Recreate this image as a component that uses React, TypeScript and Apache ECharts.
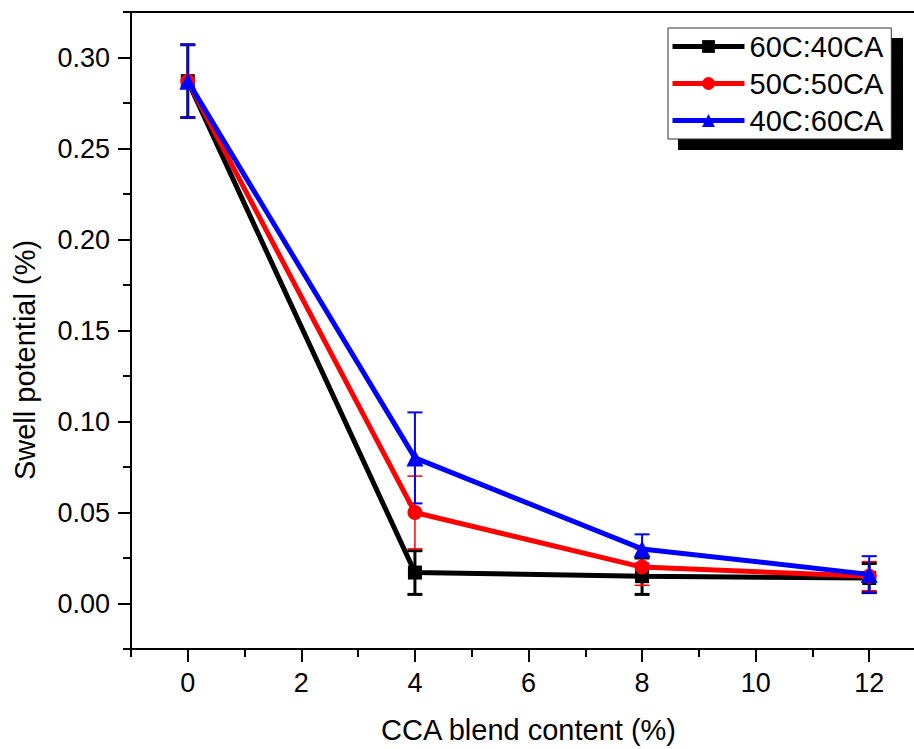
import React, { useEffect, useRef } from "react";
import * as echarts from "echarts";

const xValues = [0, 4, 8, 12];
const seriesNames = ["60C:40CA", "50C:50CA", "40C:60CA"];
const values60C40CA = [0.287, 0.017, 0.015, 0.014];
const values50C50CA = [0.287, 0.05, 0.02, 0.015];
const values40C60CA = [0.287, 0.08, 0.03, 0.016];
const err60C40CA = [0.02, 0.012, 0.01, 0.008];
const err50C50CA = [0.02, 0.02, 0.01, 0.008];
const err40C60CA = [0.02, 0.025, 0.008, 0.01];
const xMajorTicks = [0, 2, 4, 6, 8, 10, 12];
const xMinorTicks = [-1, 1, 3, 5, 7, 9, 11, 13];
const yMajorTicks = [0, 0.05, 0.1, 0.15, 0.2, 0.25, 0.3];
const yMinorTicks = [-0.025, 0.025, 0.075, 0.125, 0.175, 0.225, 0.275, 0.325];
const xTitle = "CCA blend content (%)";
const yTitle = "Swell potential (%)";

const FONT = "'Liberation Sans', Arial, sans-serif";

export default function App() {
  const ref = useRef<HTMLDivElement>(null);
  useEffect(() => {
    if (!ref.current) return;
    const chart = echarts.init(ref.current, undefined, { renderer: "svg" });
    const styles = [
      { color: "#000000", symbol: "rect", size: 14, errWidth: 3 },
      { color: "#ff0000", symbol: "circle", size: 15, errWidth: 1.5 },
      { color: "#0000ff", symbol: "triangle", size: 17, errWidth: 2 },
    ];
    const allValues = [values60C40CA, values50C50CA, values40C60CA];
    const allErrs = [err60C40CA, err50C50CA, err40C60CA];

    const errSeries = allValues.map((vals, i) => ({
      type: "custom",
      name: seriesNames[i] + " error",
      z: 1,
      silent: true,
      data: xValues.map((x, j) => [x, vals[j] - allErrs[i][j], vals[j] + allErrs[i][j]]),
      encode: { x: 0, y: [1, 2] },
      renderItem: (params: any, api: any) => {
        const x = api.value(0);
        const lo = api.value(1);
        const hi = api.value(2);
        const pt = api.coord([x, hi]);
        const pb = api.coord([x, lo]);
        const hw = 7.5;
        const st = { stroke: styles[i].color, lineWidth: styles[i].errWidth };
        return {
          type: "group",
          children: [
            { type: "line", shape: { x1: pt[0], y1: pt[1], x2: pb[0], y2: pb[1] }, style: st },
            { type: "line", shape: { x1: pt[0] - hw, y1: pt[1], x2: pt[0] + hw, y2: pt[1] }, style: st },
            { type: "line", shape: { x1: pb[0] - hw, y1: pb[1], x2: pb[0] + hw, y2: pb[1] }, style: st },
          ],
        };
      },
    }));

    const lineSeries = allValues.map((vals, i) => ({
      type: "line",
      name: seriesNames[i],
      z: 2 + i,
      data: xValues.map((x, j) => [x, vals[j]]),
      symbol: styles[i].symbol,
      symbolSize: styles[i].size,
      showSymbol: true,
      lineStyle: { color: styles[i].color, width: 5 },
      itemStyle: { color: styles[i].color },
      emphasis: { disabled: true },
    }));

    const axisLabelStyle = { color: "#000", fontFamily: FONT, fontSize: 27 };

    chart.setOption({
      animation: false,
      backgroundColor: "#fff",
      grid: {
        left: 131,
        right: 14,
        top: 12,
        bottom: 99,
        show: true,
        borderColor: "#000",
        borderWidth: 2,
        backgroundColor: "transparent",
      },
      legend: {
        data: seriesNames,
        left: 668,
        top: 28,
        orient: "vertical",
        selectedMode: false,
        backgroundColor: "#fff",
        borderColor: "#333",
        borderWidth: 1,
        padding: [1, 8, 1, 2],
        itemGap: 2,
        itemWidth: 72,
        itemHeight: 16,
        z: 10,
        lineStyle: { width: 5 },
        textStyle: { color: "#000", fontFamily: FONT, fontSize: 29, lineHeight: 35 },
      },
      xAxis: [
        {
          type: "value",
          min: -1,
          max: 13,
          position: "bottom",
          axisLine: { show: true, onZero: false, lineStyle: { color: "#000", width: 2 } },
          axisTick: { show: true, customValues: xMajorTicks, length: 13, lineStyle: { color: "#000", width: 2 } },
          axisLabel: {
            show: true,
            customValues: xMajorTicks,
            margin: 20,
            formatter: (v: number) => String(v),
            ...axisLabelStyle,
          },
          splitLine: { show: false },
          name: xTitle,
          nameLocation: "middle",
          nameGap: 66,
          nameTextStyle: { color: "#000", fontFamily: FONT, fontSize: 29 },
        },
        {
          type: "value",
          min: -1,
          max: 13,
          position: "bottom",
          axisLine: { show: false, onZero: false },
          axisTick: { show: true, customValues: xMinorTicks, length: 8, lineStyle: { color: "#000", width: 2 } },
          axisLabel: { show: false },
          splitLine: { show: false },
        },
      ],
      yAxis: [
        {
          type: "value",
          min: -0.025,
          max: 0.325,
          position: "left",
          axisLine: { show: true, onZero: false, lineStyle: { color: "#000", width: 2 } },
          axisTick: { show: true, customValues: yMajorTicks, length: 13, lineStyle: { color: "#000", width: 2 } },
          axisLabel: {
            show: true,
            customValues: yMajorTicks,
            margin: 21,
            formatter: (v: number) => v.toFixed(2),
            ...axisLabelStyle,
          },
          splitLine: { show: false },
        },
        {
          type: "value",
          min: -0.025,
          max: 0.325,
          position: "left",
          axisLine: { show: false, onZero: false },
          axisTick: { show: true, customValues: yMinorTicks, length: 8, lineStyle: { color: "#000", width: 2 } },
          axisLabel: { show: false },
          splitLine: { show: false },
        },
      ],
      graphic: [
        {
          type: "rect",
          left: 678,
          top: 38,
          z: 0,
          shape: { width: 225, height: 112 },
          style: { fill: "#000" },
          silent: true,
        },
        {
          type: "text",
          x: 25,
          y: 360,
          rotation: Math.PI / 2,
          z: 5,
          style: {
            text: yTitle,
            fill: "#000",
            font: `29px ${FONT}`,
            align: "center",
            verticalAlign: "middle",
          },
        },
      ],
      series: [...errSeries, ...lineSeries],
    });
    return () => chart.dispose();
  }, []);

  return (
    <div
      style={{
        position: "absolute",
        left: 0,
        top: 0,
        width: 914,
        height: 749,
        overflow: "hidden",
        background: "#fff",
      }}
    >
      <div ref={ref} style={{ width: 940, height: 749 }} />
    </div>
  );
}
